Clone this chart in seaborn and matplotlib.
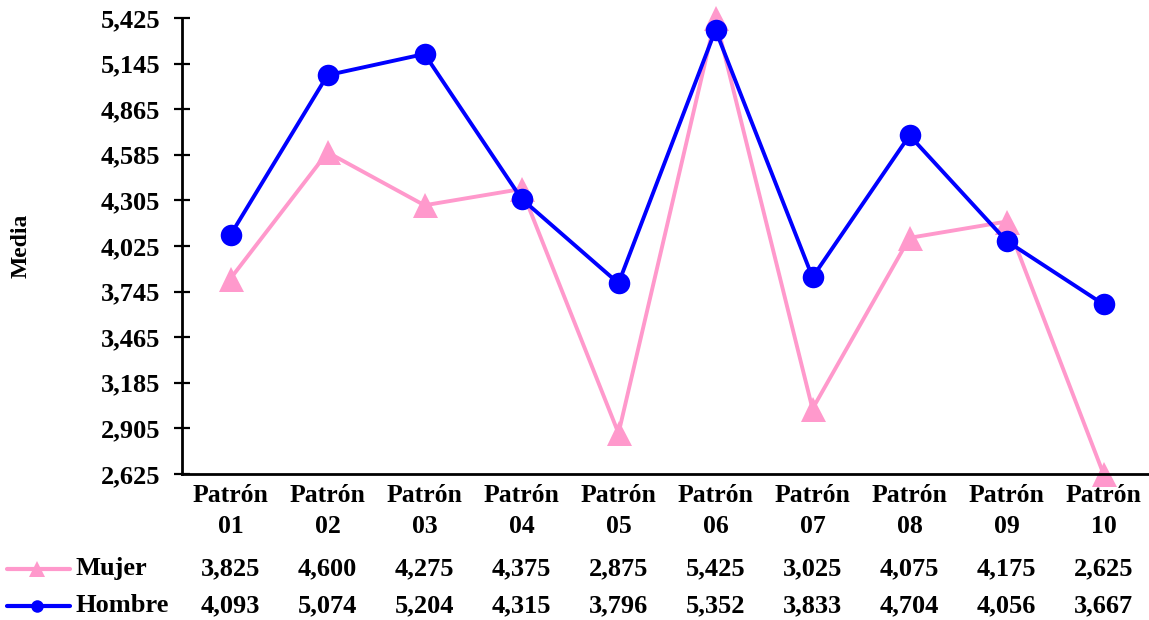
import matplotlib
matplotlib.use("Agg")
import matplotlib.pyplot as plt
from matplotlib.lines import Line2D
import matplotlib.transforms as mtransforms
import seaborn as sns
import pandas as pd

patrones = ["01", "02", "03", "04", "05", "06", "07", "08", "09", "10"]
mujer = [3.825, 4.600, 4.275, 4.375, 2.875, 5.425, 3.025, 4.075, 4.175, 2.625]
hombre = [4.093, 5.074, 5.204, 4.315, 3.796, 5.352, 3.833, 4.704, 4.056, 3.667]
y_ticks = [2.625, 2.905, 3.185, 3.465, 3.745, 4.025, 4.305, 4.585, 4.865, 5.145, 5.425]

PINK = "#FF99CC"
BLUE = "#0000FF"

sns.set_style("white")
plt.rcParams["font.family"] = ["Liberation Serif", "DejaVu Serif"]
plt.rcParams["font.weight"] = "bold"
for key in ["text.color", "axes.labelcolor", "xtick.color", "ytick.color"]:
    plt.rcParams[key] = "black"

df = pd.DataFrame({
    "patron": [f"Patrón\n{p}" for p in patrones],
    "Mujer": mujer,
    "Hombre": hombre,
})

fig = plt.figure(figsize=(11.49, 6.2), dpi=100)
W, H = 1149, 620
ax = fig.add_axes([182 / W, (H - 474) / H, 1 - 182 / W, (474 - 18) / H])

sns.lineplot(data=df, x="patron", y="Mujer", ax=ax, color=PINK, marker="^",
             markersize=18, markeredgewidth=0, linewidth=2.8, sort=False)
sns.lineplot(data=df, x="patron", y="Hombre", ax=ax, color=BLUE, marker="o",
             markersize=15.5, markeredgewidth=0, linewidth=2.8, sort=False)

for line in ax.lines:
    line.set_clip_on(False)

ax.set_xlim(-0.5, 9.5 - 3 / 97)
ax.set_ylim(y_ticks[0], y_ticks[-1])
ax.set_yticks(y_ticks)
ax.set_yticklabels([f"{v:.3f}".replace(".", ",") for v in y_ticks],
                   fontsize=19, fontweight="bold")
ax.set_xticks(range(len(patrones)))
ax.set_xticklabels(df["patron"], fontsize=18.5, fontweight="bold", linespacing=1.45)
ax.tick_params(axis="y", direction="inout", length=11, width=1.6, pad=10, left=True)
ax.tick_params(axis="x", length=0, pad=7)
ax.set_xlabel("")
ax.set_ylabel("Media", fontsize=17, fontweight="bold")
ax.yaxis.set_label_coords(-150 / 967, 0.5)

for side in ["top", "right"]:
    ax.spines[side].set_visible(False)
for side in ["left", "bottom"]:
    ax.spines[side].set_linewidth(2)
    ax.spines[side].set_color("black")

# data table under the chart
trans = mtransforms.blended_transform_factory(ax.transData, fig.transFigure)
rows = [("Mujer", mujer, PINK, "^", 569), ("Hombre", hombre, BLUE, "o", 606)]
for name, vals, color, mk, ypx in rows:
    yf = (H - ypx) / H
    for i, v in enumerate(vals):
        ax.text(i, yf, f"{v:.3f}".replace(".", ","), transform=trans,
                ha="center", va="center", fontsize=19, fontweight="bold",
                clip_on=False)
    fig.add_artist(Line2D([7 / W, 70 / W], [yf, yf], transform=fig.transFigure,
                          color=color, linewidth=3))
    fig.add_artist(Line2D([37 / W], [yf], transform=fig.transFigure, color=color,
                          marker=mk, markersize=11 if mk == "^" else 9,
                          markeredgewidth=0, linestyle="none"))
    fig.text(75 / W, yf, name, ha="left", va="center", fontsize=19,
             fontweight="bold")

fig.savefig("out.png", dpi=100)
